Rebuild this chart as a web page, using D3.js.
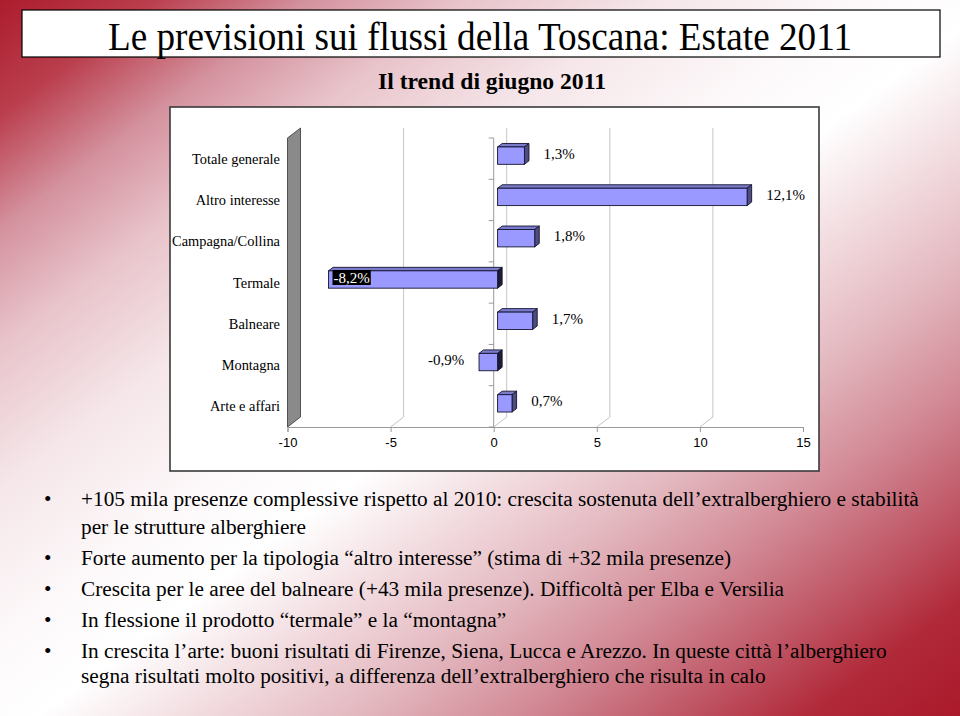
<!DOCTYPE html>
<html>
<head>
<meta charset="utf-8">
<script src="https://cdn.jsdelivr.net/npm/d3@7"></script>
<style>
  html, body { margin: 0; padding: 0; background: #fff; }
  svg { display: block; }
</style>
</head>
<body>
<svg id="chart" width="960" height="716"></svg>
<script>
// ---------------- DATA ----------------
const titleText = "Le previsioni sui flussi della Toscana: Estate 2011";
const subtitleText = "Il trend di giugno 2011";
const categories = ["Totale generale", "Altro interesse", "Campagna/Collina", "Termale", "Balneare", "Montagna", "Arte e affari"];
const values = [1.3, 12.1, 1.8, -8.2, 1.7, -0.9, 0.7];
const valueLabels = ["1,3%", "12,1%", "1,8%", "-8,2%", "1,7%", "-0,9%", "0,7%"];
const invertedLabels = ["Termale"];
const xTicks = [-10, -5, 0, 5, 10, 15];
const xDomain = [-10, 15];
const bullets = [
  ["+105 mila presenze complessive rispetto al 2010: crescita sostenuta dell\u2019extralberghiero e stabilità", "per le strutture alberghiere"],
  ["Forte aumento per la tipologia \u201caltro interesse\u201d (stima di +32 mila presenze)"],
  ["Crescita per le aree del balneare (+43 mila presenze). Difficoltà per Elba e Versilia"],
  ["In flessione il prodotto \u201ctermale\u201d e la \u201cmontagna\u201d"],
  ["In crescita l\u2019arte: buoni risultati di Firenze, Siena, Lucca e Arezzo. In queste città l\u2019alberghiero", "segna risultati molto positivi, a differenza dell\u2019extralberghiero che risulta in calo"]
];

// ---------------- DRAWING ----------------
const SERIF = "'Liberation Serif', 'Times New Roman', serif";
const SANS = "'Liberation Sans', Arial, sans-serif";
const svg = d3.select("#chart");
const W = 960, H = 716;
const defs = svg.append("defs");
const grad = defs.append("linearGradient").attr("id", "bg")
  .attr("x1", 0).attr("y1", 0).attr("x2", 1).attr("y2", 1);
[[0, "rgb(172,28,45)"], [0.08, "rgb(186,62,77)"], [0.16, "rgb(212,145,158)"], [0.24, "rgb(232,195,202)"],
 [0.34, "rgb(245,230,233)"], [0.45, "rgb(253,249,250)"], [0.52, "#ffffff"], [0.6, "rgb(242,220,224)"],
 [0.68, "rgb(228,186,193)"], [0.77, "rgb(210,138,150)"], [0.85, "rgb(192,88,103)"], [0.92, "rgb(177,42,58)"],
 [1, "rgb(170,25,42)"]].forEach(([o, c]) => grad.append("stop").attr("offset", o).attr("stop-color", c));

svg.append("rect").attr("width", W).attr("height", H).attr("fill", "url(#bg)");

// Title box
svg.append("rect").attr("x", 22).attr("y", 10).attr("width", 918).attr("height", 47)
  .attr("fill", "#fff").attr("stroke", "#000").attr("stroke-width", 1.2);
svg.append("text").attr("x", 480).attr("y", 50).attr("text-anchor", "middle")
  .attr("font-family", SERIF).attr("font-size", 39)
  .attr("textLength", 744).attr("lengthAdjust", "spacingAndGlyphs")
  .text(titleText);
svg.append("text").attr("x", 492).attr("y", 89).attr("text-anchor", "middle")
  .attr("font-family", SERIF).attr("font-size", 24).attr("font-weight", "bold")
  .attr("textLength", 228).attr("lengthAdjust", "spacingAndGlyphs")
  .text(subtitleText);

// Chart frame
svg.append("rect").attr("x", 170).attr("y", 107).attr("width", 649).attr("height", 364)
  .attr("fill", "#fff").attr("stroke", "#3a3a3a").attr("stroke-width", 1.6);

const x = d3.scaleLinear().domain(xDomain).range([287.5, 803]);
const y = d3.scaleBand().domain(categories).range([138, 427]).padding(0);
const D = [13, -10]; // 3D depth vector
const floorY = 427, topY = 138;

const g = svg.append("g");

// Left wall
g.append("path")
  .attr("d", `M${x(xDomain[0])},${floorY} L${x(xDomain[0])},${topY} L${x(xDomain[0]) + D[0]},${topY + D[1]} L${x(xDomain[0]) + D[0]},${floorY + D[1]} Z`)
  .attr("fill", "#8a8a8a").attr("stroke", "#333").attr("stroke-width", 0.8);

// Gridlines (back wall + floor)
xTicks.filter(t => t > xDomain[0] && t < xDomain[1]).forEach(t => {
  g.append("path")
    .attr("d", `M${x(t)},${floorY} L${x(t) + D[0]},${floorY + D[1]} L${x(t) + D[0]},${topY + D[1]}`)
    .attr("fill", "none").attr("stroke", "#c4c4c4").attr("stroke-width", 1);
});

// x axis
const xAxis = d3.axisBottom(x).tickValues(xTicks).tickSize(5).tickPadding(6).tickFormat(d => d);
const xg = g.append("g").attr("transform", `translate(0,${floorY})`).call(xAxis);
xg.select(".domain").attr("stroke", "#9a9a9a");
xg.selectAll(".tick line").attr("stroke", "#9a9a9a");
xg.selectAll(".tick text").attr("font-family", SANS).attr("font-size", 13).attr("fill", "#000");

// y axis at zero (ticks at band boundaries)
const yAxisG = g.append("g");
yAxisG.append("line").attr("x1", x(0)).attr("x2", x(0)).attr("y1", topY).attr("y2", floorY).attr("stroke", "#9a9a9a");
const bounds = categories.map(c => y(c)).concat([floorY]);
yAxisG.selectAll("line.tk").data(bounds).join("line").attr("class", "tk")
  .attr("x1", x(0) - 5).attr("x2", x(0)).attr("y1", d => d).attr("y2", d => d).attr("stroke", "#9a9a9a");

// Category labels
g.selectAll("text.cat").data(categories).join("text").attr("class", "cat")
  .attr("x", 280).attr("y", d => y(d) + y.bandwidth() / 2)
  .attr("text-anchor", "end").attr("dominant-baseline", "central")
  .attr("font-family", SERIF).attr("font-size", 14.4)
  .text(d => d);

// Bars
const fF = 0.3, fB = 0.65;
const f = [D[0] * fF, D[1] * fF], b = [D[0] * fB, D[1] * fB];
const bh = y.bandwidth() * 0.42;
const data = categories.map((c, i) => ({ c, v: values[i], lab: valueLabels[i] }));
data.forEach(d => {
  const x0 = Math.min(x(0), x(d.v)), x1 = Math.max(x(0), x(d.v));
  const yc = y(d.c) + y.bandwidth() / 2;
  const yT = yc - bh / 2 + f[1], yB = yc + bh / 2 + f[1];
  const dx = b[0] - f[0], dy = b[1] - f[1];
  const bg = g.append("g");
  bg.append("path").attr("d", `M${x0 + f[0]},${yT} L${x1 + f[0]},${yT} L${x1 + f[0] + dx},${yT + dy} L${x0 + f[0] + dx},${yT + dy} Z`)
    .attr("fill", "#7b7bcc").attr("stroke", "#141430").attr("stroke-width", 0.9).attr("stroke-linejoin", "round");
  bg.append("path").attr("d", `M${x1 + f[0]},${yT} L${x1 + f[0] + dx},${yT + dy} L${x1 + f[0] + dx},${yB + dy} L${x1 + f[0]},${yB} Z`)
    .attr("fill", d.v < 0 ? "#1c1c33" : "#4d4d80").attr("stroke", "#141430").attr("stroke-width", 0.9).attr("stroke-linejoin", "round");
  bg.append("rect").attr("x", x0 + f[0]).attr("y", yT).attr("width", x1 - x0).attr("height", bh)
    .attr("fill", "#9999ff").attr("stroke", "#141430").attr("stroke-width", 0.9);

  // value label
  const ly = yc - 5;
  if (invertedLabels.includes(d.c)) {
    const t = g.append("text").attr("x", x(d.v) + f[0] + 5).attr("y", ly).attr("dominant-baseline", "central")
      .attr("font-family", SERIF).attr("font-size", 15).attr("fill", "#fff").text(d.lab);
    const bb = t.node().getBBox();
    g.insert("rect", () => t.node()).attr("x", bb.x - 1).attr("y", ly - 7.5).attr("width", bb.width + 2).attr("height", 15).attr("fill", "#000");
  } else if (d.v >= 0) {
    g.append("text").attr("x", x(d.v) + 23).attr("y", ly).attr("dominant-baseline", "central")
      .attr("font-family", SERIF).attr("font-size", 15).attr("fill", "#000").text(d.lab);
  } else {
    g.append("text").attr("x", x(d.v) - 11).attr("y", ly).attr("text-anchor", "end").attr("dominant-baseline", "central")
      .attr("font-family", SERIF).attr("font-size", 15).attr("fill", "#000").text(d.lab);
  }
});

// Bullets
const bulletG = svg.append("g").attr("font-family", SERIF).attr("font-size", 21.3).attr("fill", "#000");
const lineBaselines = [506, 534, 565, 596, 627, 658, 683];
let li = 0;
bullets.forEach(lines => {
  bulletG.append("text").attr("x", 44).attr("y", lineBaselines[li]).text("\u2022");
  lines.forEach(l => {
    bulletG.append("text").attr("x", 81).attr("y", lineBaselines[li]).text(l);
    li++;
  });
});
</script>
</body>
</html>
